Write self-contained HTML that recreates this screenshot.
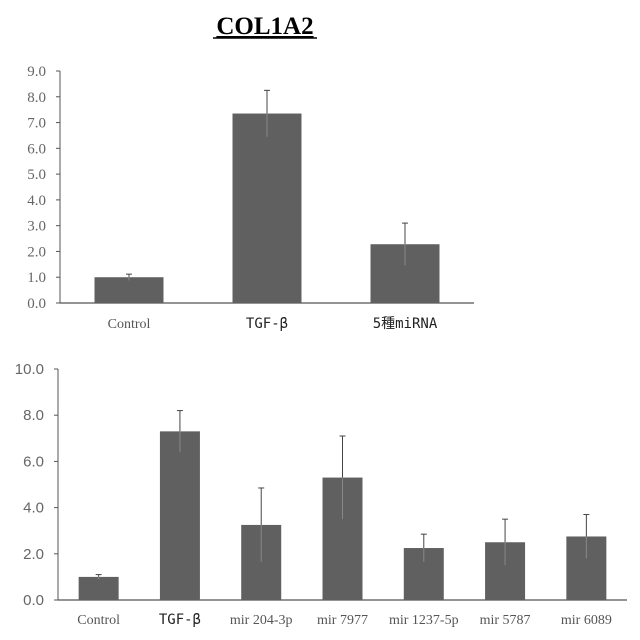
<!DOCTYPE html>
<html><head><meta charset="utf-8"><style>
body{margin:0;background:#fff}
svg{display:block}
</style></head><body>
<svg id="c" width="640" height="640" viewBox="0 0 640 640" xmlns="http://www.w3.org/2000/svg">
<text x="265" y="34" text-anchor="middle" font-family="Liberation Serif, serif" font-weight="bold" font-size="25" text-decoration="underline" fill="#000">COL1A2</text>
<line x1="213" y1="38" x2="317" y2="38" stroke="#000" stroke-width="1.5"/>
<g id="top"></g>
<g id="bot"></g>
</svg>
<script>
const topCats=["Control","TGF-β","5種miRNA"];
const topVals=[1.0,7.35,2.28];
const topErr=[0.12,0.9,0.82];
const topTicks=["0.0","1.0","2.0","3.0","4.0","5.0","6.0","7.0","8.0","9.0"];
const botCats=["Control","TGF-β","mir 204-3p","mir 7977","mir 1237-5p","mir 5787","mir 6089"];
const botVals=[1.0,7.3,3.25,5.3,2.25,2.5,2.75];
const botErr=[0.1,0.9,1.6,1.8,0.6,1.0,0.95];
const botTicks=["0.0","2.0","4.0","6.0","8.0","10.0"];
const NS="http://www.w3.org/2000/svg";
function mk(p,t,a){const e=document.createElementNS(NS,t);for(const k in a)e.setAttribute(k,a[k]);p.appendChild(e);return e;}
function draw(g,cfg){
 const {cats,vals,errs,ticks,x0,x1,y0,y1,max,barW,tickFont,tickSize,catFonts,catSize,catY,tickStep}=cfg;
 const ys=v=>y0-(v/max)*(y0-y1);
 const step=(x1-x0)/cats.length;
 const xs=i=>x0+step*(i+0.5);
 mk(g,'line',{x1:x0,y1:y1,x2:x0,y2:y0,stroke:'#555','stroke-width':1});
 const ax=mk(g,'line',{x1:x0,y1:y0,x2:x1,y2:y0,stroke:'#555','stroke-width':1.2});
 
 
 ticks.forEach((t,i)=>{
  const v=parseFloat(t);const y=ys(v);
  mk(g,'line',{x1:x0-4,y1:y,x2:x0,y2:y,stroke:'#555'});
  const tx=mk(g,'text',{x:x0-14,y:y+5,'text-anchor':'end','font-family':tickFont,'font-size':tickSize,fill:'#666'});
  tx.textContent=t;
  
  
 });
 cats.forEach((c,i)=>{
  const cx=xs(i);const v=vals[i];const e=errs[i];
  const r=mk(g,'rect',{x:cx-barW/2,y:ys(v),width:barW,height:y0-ys(v),fill:'#606060'});
  
  
  mk(g,'line',{x1:cx,y1:ys(v),x2:cx,y2:ys(v+e),stroke:'#444','stroke-width':1});
  mk(g,'line',{x1:cx,y1:ys(v),x2:cx,y2:ys(v-e),stroke:'#888','stroke-width':1});
  mk(g,'line',{x1:cx-3,y1:ys(v+e),x2:cx+3,y2:ys(v+e),stroke:'#444','stroke-width':1});
  const tx=mk(g,'text',{x:cx,y:catY,'text-anchor':'middle','font-family':catFonts[i],'font-size':catSize,fill:i==0||catFonts[i].startsWith('Liberation Serif')?'#555':'#222'});
  tx.textContent=c;
  
  
 });
}
const serif="Liberation Serif, serif";
const jp="DejaVu Sans Mono, Noto Sans CJK JP, monospace";
draw(document.getElementById('top'),{cats:topCats,vals:topVals,errs:topErr,ticks:topTicks,x0:60,x1:474,y0:303,y1:71,max:9,barW:69,tickFont:serif,tickSize:15,catFonts:[serif,jp,jp],catSize:14,catY:328});
draw(document.getElementById('bot'),{cats:botCats,vals:botVals,errs:botErr,ticks:botTicks,x0:58,x1:627,y0:600,y1:369,max:10,barW:40,tickFont:"Liberation Sans, sans-serif",tickSize:15,catFonts:[serif,jp,serif,serif,serif,serif,serif],catSize:14,catY:624});
</script>
</body></html>
